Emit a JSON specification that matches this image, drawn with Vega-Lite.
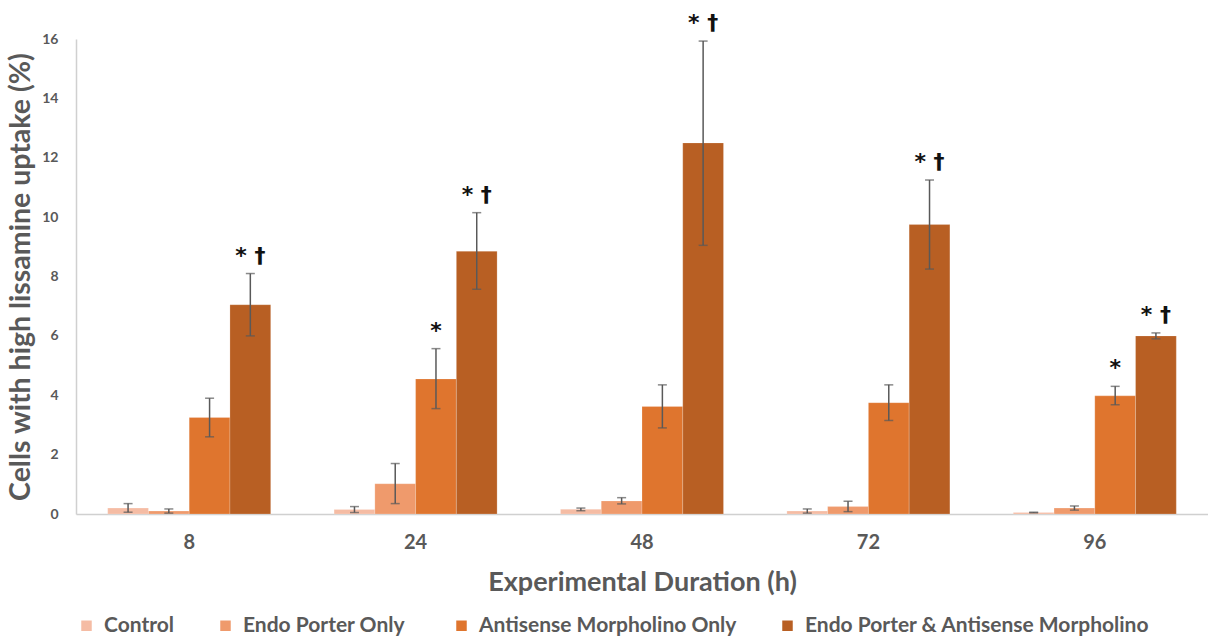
{
  "$schema": "https://vega.github.io/schema/vega-lite/v6.json",
  "width": 1208,
  "height": 640,
  "autosize": {"type": "fit", "contains": "padding"},
  "padding": {"top": 12, "left": 6, "right": 0, "bottom": 4},
  "background": "white",
  "config": {
    "font": "Lato",
    "view": {"stroke": null},
    "axis": {"grid": false, "ticks": false, "labelFont": "Lato", "titleFont": "Lato", "labelColor": "#595959", "titleColor": "#595959", "labelFontWeight": "bold", "titleFontWeight": "bold"}
  },
  "data": {
    "values": [
      {"h": "8", "s": "Control", "v": 0.2, "lo": 0.06, "hi": 0.35, "ann": ""},
      {"h": "8", "s": "Endo Porter  Only", "v": 0.1, "lo": 0.03, "hi": 0.17, "ann": ""},
      {"h": "8", "s": "Antisense Morpholino Only", "v": 3.25, "lo": 2.6, "hi": 3.9, "ann": ""},
      {"h": "8", "s": "Endo Porter & Antisense Morpholino", "v": 7.05, "lo": 6.0, "hi": 8.1, "ann": "* †"},
      {"h": "24", "s": "Control", "v": 0.15, "lo": 0.05, "hi": 0.25, "ann": ""},
      {"h": "24", "s": "Endo Porter  Only", "v": 1.02, "lo": 0.35, "hi": 1.7, "ann": ""},
      {"h": "24", "s": "Antisense Morpholino Only", "v": 4.55, "lo": 3.55, "hi": 5.57, "ann": "*"},
      {"h": "24", "s": "Endo Porter & Antisense Morpholino", "v": 8.85, "lo": 7.57, "hi": 10.15, "ann": "* †"},
      {"h": "48", "s": "Control", "v": 0.16, "lo": 0.11, "hi": 0.2, "ann": ""},
      {"h": "48", "s": "Endo Porter  Only", "v": 0.44, "lo": 0.34, "hi": 0.55, "ann": ""},
      {"h": "48", "s": "Antisense Morpholino Only", "v": 3.62, "lo": 2.9, "hi": 4.35, "ann": ""},
      {"h": "48", "s": "Endo Porter & Antisense Morpholino", "v": 12.5, "lo": 9.05, "hi": 15.93, "ann": "* †"},
      {"h": "72", "s": "Control", "v": 0.1, "lo": 0.03, "hi": 0.17, "ann": ""},
      {"h": "72", "s": "Endo Porter  Only", "v": 0.25, "lo": 0.08, "hi": 0.43, "ann": ""},
      {"h": "72", "s": "Antisense Morpholino Only", "v": 3.75, "lo": 3.15, "hi": 4.35, "ann": ""},
      {"h": "72", "s": "Endo Porter & Antisense Morpholino", "v": 9.75, "lo": 8.25, "hi": 11.25, "ann": "* †"},
      {"h": "96", "s": "Control", "v": 0.05, "lo": 0.04, "hi": 0.06, "ann": ""},
      {"h": "96", "s": "Endo Porter  Only", "v": 0.2, "lo": 0.13, "hi": 0.27, "ann": ""},
      {"h": "96", "s": "Antisense Morpholino Only", "v": 3.98, "lo": 3.68, "hi": 4.3, "ann": "*"},
      {"h": "96", "s": "Endo Porter & Antisense Morpholino", "v": 6.0, "lo": 5.9, "hi": 6.1, "ann": "* †"}
    ]
  },
  "encoding": {
    "x": {
      "field": "h", "type": "ordinal", "sort": ["8", "24", "48", "72", "96"],
      "scale": {"paddingInner": 0.28, "paddingOuter": 0.14},
      "axis": {"title": "Experimental Duration (h)", "labelAngle": 0, "labelFontSize": 20, "labelPadding": 18, "titleFontSize": 27, "titlePadding": 17, "domainColor": "#D0D0D0", "domainWidth": 1.5}
    },
    "xOffset": {
      "field": "s", "type": "nominal",
      "sort": ["Control", "Endo Porter  Only", "Antisense Morpholino Only", "Endo Porter & Antisense Morpholino"],
      "scale": {"paddingInner": 0, "paddingOuter": 0}
    }
  },
  "layer": [
    {
      "mark": {"type": "bar", "stroke": "white", "strokeWidth": 0.5, "strokeOpacity": 0.4},
      "encoding": {
        "y": {
          "field": "v", "type": "quantitative",
          "scale": {"domain": [0, 16]},
          "axis": {"title": "Cells with high lissamine uptake (%)", "values": [0, 2, 4, 6, 8, 10, 12, 14, 16], "labelFontSize": 14, "labelPadding": 18, "titleFontSize": 28.5, "titlePadding": 6, "domainColor": "#D0D0D0", "domainWidth": 1.5}
        },
        "color": {
          "field": "s", "type": "nominal",
          "sort": ["Control", "Endo Porter  Only", "Antisense Morpholino Only", "Endo Porter & Antisense Morpholino"],
          "scale": {
            "domain": ["Control", "Endo Porter  Only", "Antisense Morpholino Only", "Endo Porter & Antisense Morpholino"],
            "range": ["#F5BCA4", "#EF9A6C", "#DF752E", "#B85F23"]
          },
          "legend": {"title": null, "orient": "bottom", "direction": "horizontal", "symbolType": "square", "symbolSize": 110, "symbolStrokeWidth": 0, "labelFontSize": 21, "labelFontWeight": "bold", "labelColor": "#595959", "labelLimit": 0, "labelOffset": 7, "columnPadding": 40, "offset": 20, "labelFont": "Lato"}
        }
      }
    },
    {
      "mark": {"type": "rule", "color": "#595959", "strokeWidth": 1.5},
      "encoding": {"y": {"field": "lo", "type": "quantitative"}, "y2": {"field": "hi"}}
    },
    {
      "mark": {"type": "tick", "color": "#595959", "thickness": 1.5, "size": 9},
      "encoding": {"y": {"field": "lo", "type": "quantitative"}}
    },
    {
      "mark": {"type": "tick", "color": "#595959", "thickness": 1.5, "size": 9},
      "encoding": {"y": {"field": "hi", "type": "quantitative"}}
    },
    {
      "mark": {"type": "text", "dy": -18, "fontSize": 22, "fontWeight": "bold", "color": "#111111", "font": "DejaVu Sans"},
      "encoding": {"y": {"field": "hi", "type": "quantitative"}, "text": {"field": "ann"}}
    }
  ]
}
